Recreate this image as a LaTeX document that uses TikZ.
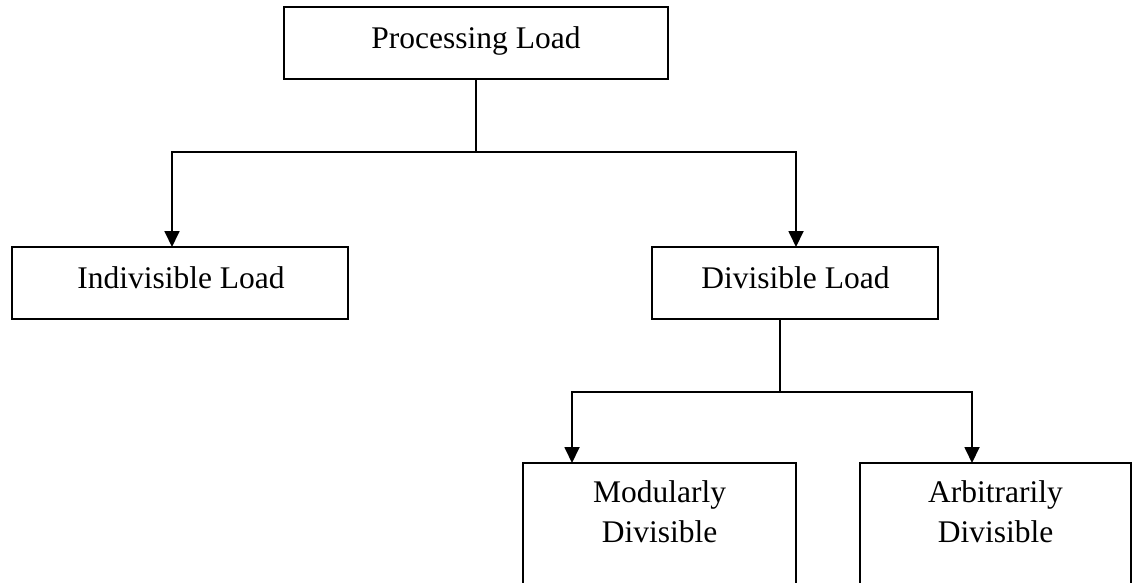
\documentclass[tikz,border=0pt]{standalone}
\usepackage{fontspec}
\setmainfont{Liberation Serif}
\usetikzlibrary{arrows.meta}
\begin{document}
\begin{tikzpicture}[x=1pt,y=-1pt,
  box/.style={draw, line width=1.8pt, inner sep=0pt, outer sep=0pt, rectangle},
  lbl/.style={anchor=base, font=\fontsize{31.5}{40}\selectfont, inner sep=0pt, align=center},
  conn/.style={line width=1.8pt},
  arr/.style={conn, -{Triangle[length=16pt,width=15pt]}}]
\useasboundingbox (0,0) rectangle (1134,582);
\clip (0,0) rectangle (1134,582);
\node[box, minimum width=384pt, minimum height=72pt] (P) at (476,43) {};
\node[box, minimum width=336pt, minimum height=72pt] (I) at (180,283) {};
\node[box, minimum width=286pt, minimum height=72pt] (D) at (795,283) {};
\node[box, minimum width=273pt, minimum height=157pt] (M) at (659.5,541.5) {};
\node[box, minimum width=271pt, minimum height=157pt] (A) at (995.5,541.5) {};
\node[lbl] (tP) at (476,48) {Processing Load};
\node[lbl] (tI) at (181,288) {Indivisible Load};
\node[lbl] (tD) at (795.5,288) {Divisible Load};
\node[lbl] (tM) at (659.5,542) {Modularly\\Divisible};
\node[lbl] (tA) at (995.5,542) {Arbitrarily\\Divisible};
\coordinate (j1) at (476,152);
\coordinate (j2) at (780,392);
\draw[conn] (P.south) -- (j1);
\draw[arr] (j1) -| ([xshift=-8pt]I.north);
\draw[arr] (j1) -| ([xshift=1pt]D.north);
\draw[conn] ([xshift=-15pt]D.south) -- (j2);
\draw[arr] (j2) -| ([xshift=-87.5pt]M.north);
\draw[arr] (j2) -| ([xshift=-23.5pt]A.north);
\end{tikzpicture}
\end{document}
